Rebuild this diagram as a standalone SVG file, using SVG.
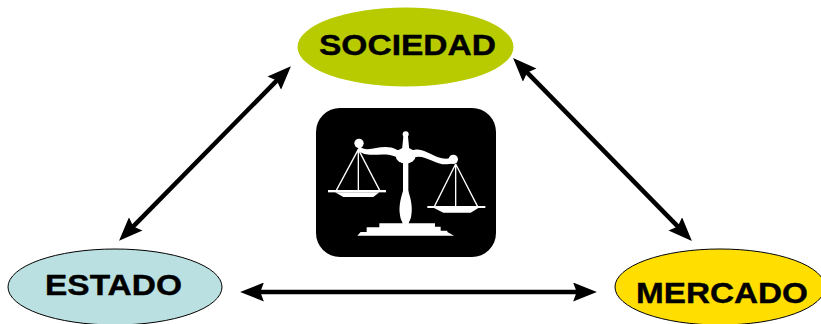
<svg xmlns="http://www.w3.org/2000/svg" width="821" height="324" viewBox="0 0 821 324">
<style>
text{font-family:"Liberation Sans",Arial,sans-serif;font-weight:bold;font-size:30px;fill:#000;stroke:#000;stroke-width:.4}
.c{stroke:#000;stroke-width:4.5;fill:none;marker-start:url(#a);marker-end:url(#a)}
.w{fill:#fff;stroke:none}
.l{stroke:#fff;fill:none;stroke-width:7}
</style>
<defs><marker id="a" markerUnits="userSpaceOnUse" markerWidth="24" markerHeight="19" refX="10" refY="8" orient="auto-start-reverse" viewBox="0 0 20 16"><path d="M0 0L20 8L0 16L3 8Z" fill="#000"/></marker></defs>
<rect width="821" height="324" fill="#fff"/>
<g id="connectors">
<line class="c" x1="127.4" y1="232.4" x2="282.6" y2="74.6"/>
<line class="c" x1="521.4" y1="66.6" x2="683.6" y2="232.4"/>
<line class="c" x1="252" y1="292" x2="585" y2="292"/>
</g>
<g id="sociedad"><ellipse cx="405.5" cy="47" rx="108" ry="39.5" fill="#b8cb00"/><text x="319" y="55" textLength="177" lengthAdjust="spacingAndGlyphs">SOCIEDAD</text></g>
<g id="estado"><ellipse cx="115" cy="287" rx="107" ry="38" fill="#bae0e1" stroke="#000" stroke-width="1"/><text x="45" y="295" textLength="137" lengthAdjust="spacingAndGlyphs">ESTADO</text></g>
<g id="mercado"><ellipse cx="720" cy="287" rx="105" ry="38" fill="#ffde00" stroke="#000" stroke-width="1"/><text x="636" y="302.5" textLength="172" lengthAdjust="spacingAndGlyphs">MERCADO</text></g>
<g id="balanza">
<rect x="316" y="108" width="180" height="149" rx="24" fill="#000"/>
<g transform="translate(310 100) scale(.33333)">
<circle class="w" cx="147" cy="130" r="14"/><circle class="w" cx="430" cy="178" r="14"/><circle class="w" cx="287" cy="103" r="9"/>
<ellipse class="w" cx="287" cy="167" rx="30" ry="24"/>
<path class="w" d="M147 138C175 165 215 125 262 150L312 150C350 140 380 190 430 172L430 190C380 205 350 160 312 172L262 172C215 150 175 180 143 150Z"/>
<path class="w" d="M281 100H293L298 150H276Z"/>
<rect class="w" x="279" y="185" width="16" height="90"/>
<path class="w" d="M279 272H295C303 300 308 320 304 345C302 362 296 365 296 372H278C278 365 272 362 270 345C266 320 271 300 279 272Z"/>
<path class="w" d="M208 370H375V380H392V392H412V396L432 407H142L152 396H170V382H208Z"/>
<path class="l" style="stroke-width:4" d="M145 148L79 271M145 148V271M145 148L209 271M437 192L373 320M437 192V320M437 192L503 320"/>
<rect class="w" x="54" y="270" width="174" height="7"/>
<path class="w" d="M75 277H208L190 291H100Z"/>
<rect class="w" x="352" y="318" width="174" height="6"/>
<path class="w" d="M372 324H505L482 338H400Z"/>
</g>
</g>
</svg>
